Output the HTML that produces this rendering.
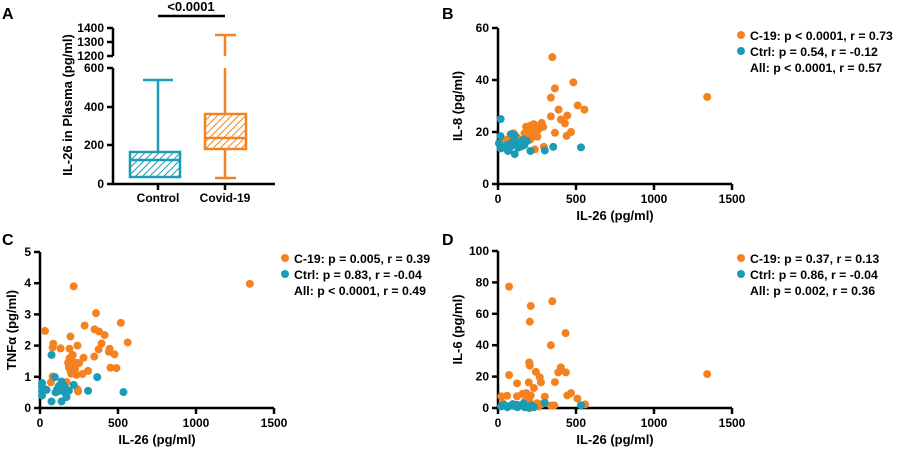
<!DOCTYPE html>
<html><head><meta charset="utf-8"><style>
html,body{margin:0;padding:0;background:#fff;}
svg{display:block;font-family:"Liberation Sans",Arial,sans-serif;font-weight:bold;}
</style></head><body>
<svg id="s" width="900" height="451" viewBox="0 0 900 451" xmlns="http://www.w3.org/2000/svg">
<defs>
<pattern id="ht" patternUnits="userSpaceOnUse" width="5" height="5" patternTransform="rotate(45)"><rect width="5" height="5" fill="#fff"/><line x1="0" y1="0" x2="0" y2="5" stroke="#1B9BB5" stroke-width="2"/></pattern>
<pattern id="ho" patternUnits="userSpaceOnUse" width="5" height="5" patternTransform="rotate(45)"><rect width="5" height="5" fill="#fff"/><line x1="0" y1="0" x2="0" y2="5" stroke="#F58220" stroke-width="2"/></pattern>
</defs>
<g font-size="16" fill="#000"><text x="2" y="19">A</text><text x="442" y="19">B</text><text x="2" y="245">C</text><text x="442" y="245">D</text></g>

<!-- Panel A -->
<g stroke="#000" stroke-width="2.5" fill="none">
<line x1="113" y1="28" x2="113" y2="56"/><line x1="113" y1="68" x2="113" y2="185"/>
<line x1="107" y1="28" x2="113" y2="28"/><line x1="107" y1="42" x2="113" y2="42"/><line x1="107" y1="56" x2="113" y2="56"/>
<line x1="107" y1="68" x2="113" y2="68"/><line x1="107" y1="107" x2="113" y2="107"/><line x1="107" y1="145" x2="113" y2="145"/><line x1="107" y1="184" x2="113" y2="184"/>
<line x1="113" y1="184" x2="275" y2="184"/><line x1="158" y1="184" x2="158" y2="190"/><line x1="225" y1="184" x2="225" y2="190"/>
<line x1="158" y1="16" x2="225" y2="16"/>
</g>
<g font-size="12" text-anchor="end"><text x="104" y="32">1400</text><text x="104" y="46">1300</text><text x="104" y="60">1200</text>
<text x="104" y="72">600</text><text x="104" y="111">400</text><text x="104" y="149">200</text><text x="104" y="188">0</text></g>
<g font-size="12" text-anchor="middle"><text x="158" y="202">Control</text><text x="225" y="202">Covid-19</text><text x="191" y="11" font-size="13">&lt;0.0001</text></g>
<text transform="translate(72,105) rotate(-90)" font-size="13" text-anchor="middle">IL-26 in Plasma (pg/ml)</text>
<g stroke="#1B9BB5" stroke-width="2.5"><rect x="130" y="152" width="50" height="25" fill="url(#ht)"/><line x1="130" y1="160" x2="180" y2="160"/><line x1="158" y1="152" x2="158" y2="80"/><line x1="143" y1="80" x2="173" y2="80"/></g>
<g stroke="#F58220" stroke-width="2.5"><rect x="205" y="114" width="41" height="35" fill="url(#ho)"/><line x1="205" y1="138" x2="246" y2="138"/><line x1="225" y1="114" x2="225" y2="68"/><line x1="225" y1="56" x2="225" y2="35"/><line x1="215" y1="35" x2="236" y2="35"/><line x1="225" y1="149" x2="225" y2="178"/><line x1="215" y1="178" x2="236" y2="178"/></g>

<g id="plots"></g>
</svg>
<script>
var NS="http://www.w3.org/2000/svg",G=document.getElementById("plots");
function el(t,a,txt){var e=document.createElementNS(NS,t);for(var k in a)e.setAttribute(k,a[k]);if(txt!=null)e.textContent=txt;G.appendChild(e);return e;}
var O="#F58220",T="#1B9BB5";
function panel(x0,y0,yTop,ymax,ystep,toff,ytitle,leg,lx,ly,orange,teal){
 var sx=234/1500, sy=(y0-yTop)/ymax;
 var X=function(v){return x0+v*sx},Y=function(v){return y0-v*sy};
 el("line",{x1:x0,y1:yTop,x2:x0,y2:y0+1,stroke:"#000","stroke-width":2.5});
 el("line",{x1:x0-1,y1:y0,x2:x0+234,y2:y0,stroke:"#000","stroke-width":2.5});
 for(var v=0;v<=ymax+1e-9;v+=ystep){el("line",{x1:x0-6,y1:Y(v),x2:x0,y2:Y(v),stroke:"#000","stroke-width":2.5});
  el("text",{x:x0-9,y:Y(v)+4,"font-size":12,"text-anchor":"end"},String(v));}
 for(var u=0;u<=1500;u+=500){el("line",{x1:X(u),y1:y0,x2:X(u),y2:y0+6,stroke:"#000","stroke-width":2.5});
  el("text",{x:X(u),y:y0+19,"font-size":12,"text-anchor":"middle"},String(u));}
 el("text",{x:x0+117,y:y0+36,"font-size":13,"text-anchor":"middle"},"IL-26 (pg/ml)");
 el("text",{transform:"translate("+(x0-toff)+","+((y0+yTop)/2)+") rotate(-90)","font-size":13,"text-anchor":"middle"},ytitle);
 orange.forEach(function(p){el("circle",{cx:X(p[0]),cy:Y(p[1]),r:4,fill:O})});
 teal.forEach(function(p){el("circle",{cx:X(p[0]),cy:Y(p[1]),r:4,fill:T})});
 el("circle",{cx:lx,cy:ly,r:4,fill:O});el("circle",{cx:lx,cy:ly+16,r:4,fill:T});
 for(var i=0;i<3;i++)el("text",{x:lx+9,y:ly+5+i*16,"font-size":12.3},leg[i]);
}
panel(498,184,28,60,20,36,"IL-8 (pg/ml)",["C-19: p < 0.0001, r = 0.73","Ctrl: p = 0.54, r = -0.12","All: p < 0.0001, r = 0.57"],741,35,
[[348,48.8],[483,39.1],[365,36.8],[339,33.2],[388,28.6],[511,30.2],[554,28.6],[339,26],[444,26.3],[403,24.8],[429,23.3],[365,19.7],[468,20],[440,18.5],[247,22],[253,18.2],[236,13.3],[294,14.3],[1341,33.5],
[180,22],[195,21],[210,22.5],[225,21],[200,20],[215,19],[230,23],[260,21],[270,22],[280,23.5],[190,18],[175,17],[160,16],[140,17],[120,18],[100,19.5],[80,19],[60,17],[40,16],[30,14],[150,15],[170,19.5],[240,20],[220,18],[205,17],[290,22]],
[[17,25],[17,18.4],[6,15.6],[17,13.7],[86,19.2],[107,18.8],[64,12.7],[107,11.5],[208,12.7],[300,12.9],[354,14.3],[532,14.1],[90,16],[110,15],[125,16],[140,15],[155,16],[170,15],[185,16.5],[130,14],[150,14.5],[165,17],[60,15],[75,14],[40,14]]);
panel(40,408,252,5,1,24,"TNFα (pg/ml)",["C-19: p = 0.005, r = 0.39","Ctrl: p = 0.83, r = -0.04","All: p < 0.0001, r = 0.49"],285,258,
[[32,2.47],[85,2.06],[81,1.94],[132,1.91],[195,2.29],[216,3.9],[189,1.9],[240,2.0],[286,2.64],[359,3.04],[350,2.52],[378,2.45],[414,2.34],[395,2.07],[376,1.88],[348,1.65],[446,1.9],[442,1.8],[477,1.72],[452,1.29],[490,1.28],[518,2.73],[562,2.1],[1345,3.98],[308,1.19],[272,1.09],[234,1.06],[81,1.01],[70,0.82],[170,0.83],[244,0.53],[279,1.61],[251,1.44],
[185,1.3],[195,1.2],[205,1.5],[215,1.35],[200,1.1],[225,1.25],[190,1.6],[210,1.7],[180,1.45],[230,1.45],[220,1.15],[150,0.8],[240,0.6]],
[[13,0.8],[13,0.69],[13,0.53],[13,0.4],[74,1.7],[95,0.99],[367,0.99],[535,0.51],[308,0.55],[216,0.74],[74,0.21],[138,0.21],[170,0.35],[138,0.85],[42,0.58],[110,0.6],[125,0.55],[140,0.65],[155,0.7],[170,0.6],[185,0.55],[100,0.5],[120,0.7],[160,0.5]]);
panel(498,408,251,100,20,36,"IL-6 (pg/ml)",["C-19: p = 0.37, r = 0.13","Ctrl: p = 0.86, r = -0.04","All: p = 0.002, r = 0.36"],741,258,
[[71,77.3],[210,65],[204,55],[348,68],[339,40],[433,47.7],[71,21],[200,29],[204,27],[243,23],[268,19.5],[275,16.3],[197,16.3],[122,15.7],[365,16.5],[403,25.9],[386,22.7],[435,22.7],[230,12.7],[300,7.2],[444,8],[468,9.5],[509,6],[558,2.3],[1341,21.6],[21,7.4],[58,7.8],[122,7.4],[182,9.5],[157,9],[360,1.7],[340,1.5],[250,3],[200,5],[170,4],[150,2],[220,2],[260,1],[280,2.5],[190,7],[30,3],[100,2],[210,8]],
[[20,1],[40,2],[60,0.5],[80,1.5],[95,2.5],[110,1],[125,0.5],[140,1.5],[155,2],[170,0.5],[185,1],[200,0],[215,1.5],[230,0.5],[300,3.2],[532,1.7],[165,2.8],[120,2]]);
</script>
</body></html>
